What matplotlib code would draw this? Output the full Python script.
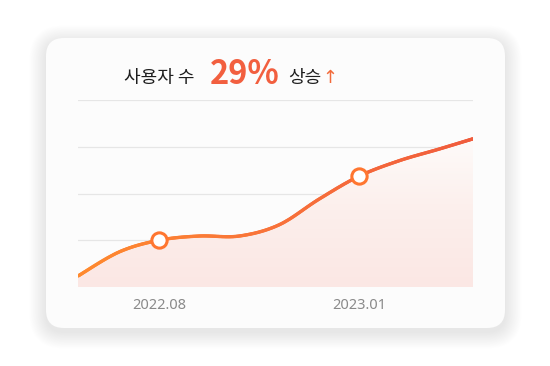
import numpy as np
import matplotlib
matplotlib.use('Agg')
import matplotlib.pyplot as plt
from matplotlib.patches import FancyBboxPatch, PathPatch
from matplotlib.path import Path
from matplotlib.collections import LineCollection
from matplotlib.colors import LinearSegmentedColormap

plt.rcParams['font.family'] = ['Noto Sans CJK KR', 'DejaVu Sans']

# months relative to 2022.08
months = [-2.03, -1, 0, 1, 2, 3, 4, 5, 6, 7, 7.85]
users = [0.235, 0.75, 1.0, 1.09, 1.09, 1.33, 1.88, 2.37, 2.70, 2.95, 3.17]
marked = [2, 7]
tickLabels = ['2022.08', '2023.01']

W, H = 550, 366
fig = plt.figure(figsize=(W / 100, H / 100), dpi=100)
fig.patch.set_facecolor('white')

# background axes in pixel coords for card, shadow and title
bg = fig.add_axes([0, 0, 1, 1])
bg.set_xlim(0, W)
bg.set_ylim(H, 0)
bg.axis('off')

cx, cy, cw, ch, r = 46, 38, 459, 290, 18
for i in range(24, 0, -1):
    bg.add_patch(FancyBboxPatch((cx - i * 0.7, cy - i * 0.7 + 4), cw + i * 1.4, ch + i * 1.4,
                                boxstyle='round,pad=0,rounding_size=%g' % (r + i * 0.7),
                                fc='black', ec='none', alpha=0.003))
bg.add_patch(FancyBboxPatch((cx, cy), cw, ch, boxstyle='round,pad=0,rounding_size=%g' % r,
                            fc='#fcfcfc', ec='none'))

base = 83
bg.text(124, base, '사용자 수', fontsize=13, fontweight='medium', color='#1e1e1e', va='baseline')
bg.text(210, base + 1, '29%', fontsize=23.5, fontweight='bold', color='#f25f3f', va='baseline')
bg.text(288, base, '상승', fontsize=13, fontweight='medium', color='#1e1e1e', va='baseline')
bg.text(322, base, '↑', fontsize=13, color='#f26a3a', va='baseline',
        family=['DejaVu Sans'])

ax = fig.add_axes([78 / W, 79 / H, 395 / W, 187 / H])
ax.set_facecolor('none')
for s in ax.spines.values():
    s.set_visible(False)
ax.set_yticks([])
ax.set_xticks([months[i] for i in marked])
ax.set_xticklabels(tickLabels, fontsize=10.5, color='#8a8a8a',
                   family=['Noto Sans', 'DejaVu Sans'])
ax.tick_params(axis='x', length=0, pad=8)
for g in [1, 2, 3, 4]:
    ax.axhline(g, color='#e6e6e6', lw=0.9, zorder=1)

# smooth curve through the points (catmull-rom as bezier)
P = np.column_stack([months, users])
n = len(P)
verts = [P[0]]
codes = [Path.MOVETO]
pts = [P[0]]
t = np.linspace(0, 1, 30)[1:, None]
for i in range(n - 1):
    p0 = P[i - 1] if i > 0 else P[i]
    p3 = P[i + 2] if i + 2 < n else P[i + 1]
    c1 = P[i] + (P[i + 1] - p0) / 6
    c2 = P[i + 1] - (p3 - P[i]) / 6
    verts += [c1, c2, P[i + 1]]
    codes += [Path.CURVE4] * 3
    pts += list((1 - t) ** 3 * P[i] + 3 * (1 - t) ** 2 * t * c1
                + 3 * (1 - t) * t ** 2 * c2 + t ** 3 * P[i + 1])
pts = np.array(pts)

# gradient area fill
area = Path(verts + [(months[-1], 0), (months[0], 0), P[0]],
            codes + [Path.LINETO, Path.LINETO, Path.CLOSEPOLY])
patch = PathPatch(area, fc='none', ec='none')
ax.add_patch(patch)
cmap = LinearSegmentedColormap.from_list('f', ['#fbe7e4', '#fcefec', '#fefcfb'])
grad = np.linspace(0, 1, 256).reshape(-1, 1)
im = ax.imshow(grad, extent=[months[0], months[-1], 0, 3.3], origin='lower',
               cmap=cmap, aspect='auto', zorder=2)
im.set_clip_path(patch)
ax.set_xlim(months[0], months[-1])
ax.set_ylim(0, 4)

# line with orange-to-red gradient
segs = np.stack([pts[:-1], pts[1:]], axis=1)
lcmap = LinearSegmentedColormap.from_list('l', ['#ff8a2e', '#f8723a', '#f05c3c'])
lc = LineCollection(segs, cmap=lcmap, lw=2.4, capstyle='round', zorder=3)
lc.set_array((pts[:-1, 0] - months[0]) / (months[-1] - months[0]))
lc.set_clim(0, 1)
ax.add_collection(lc)

ax.plot([months[i] for i in marked], [users[i] for i in marked], 'o', ms=11,
        mfc='white', mec='#ff7630', mew=2.2, zorder=4, clip_on=False)

fig.savefig('out.png', dpi=100)
